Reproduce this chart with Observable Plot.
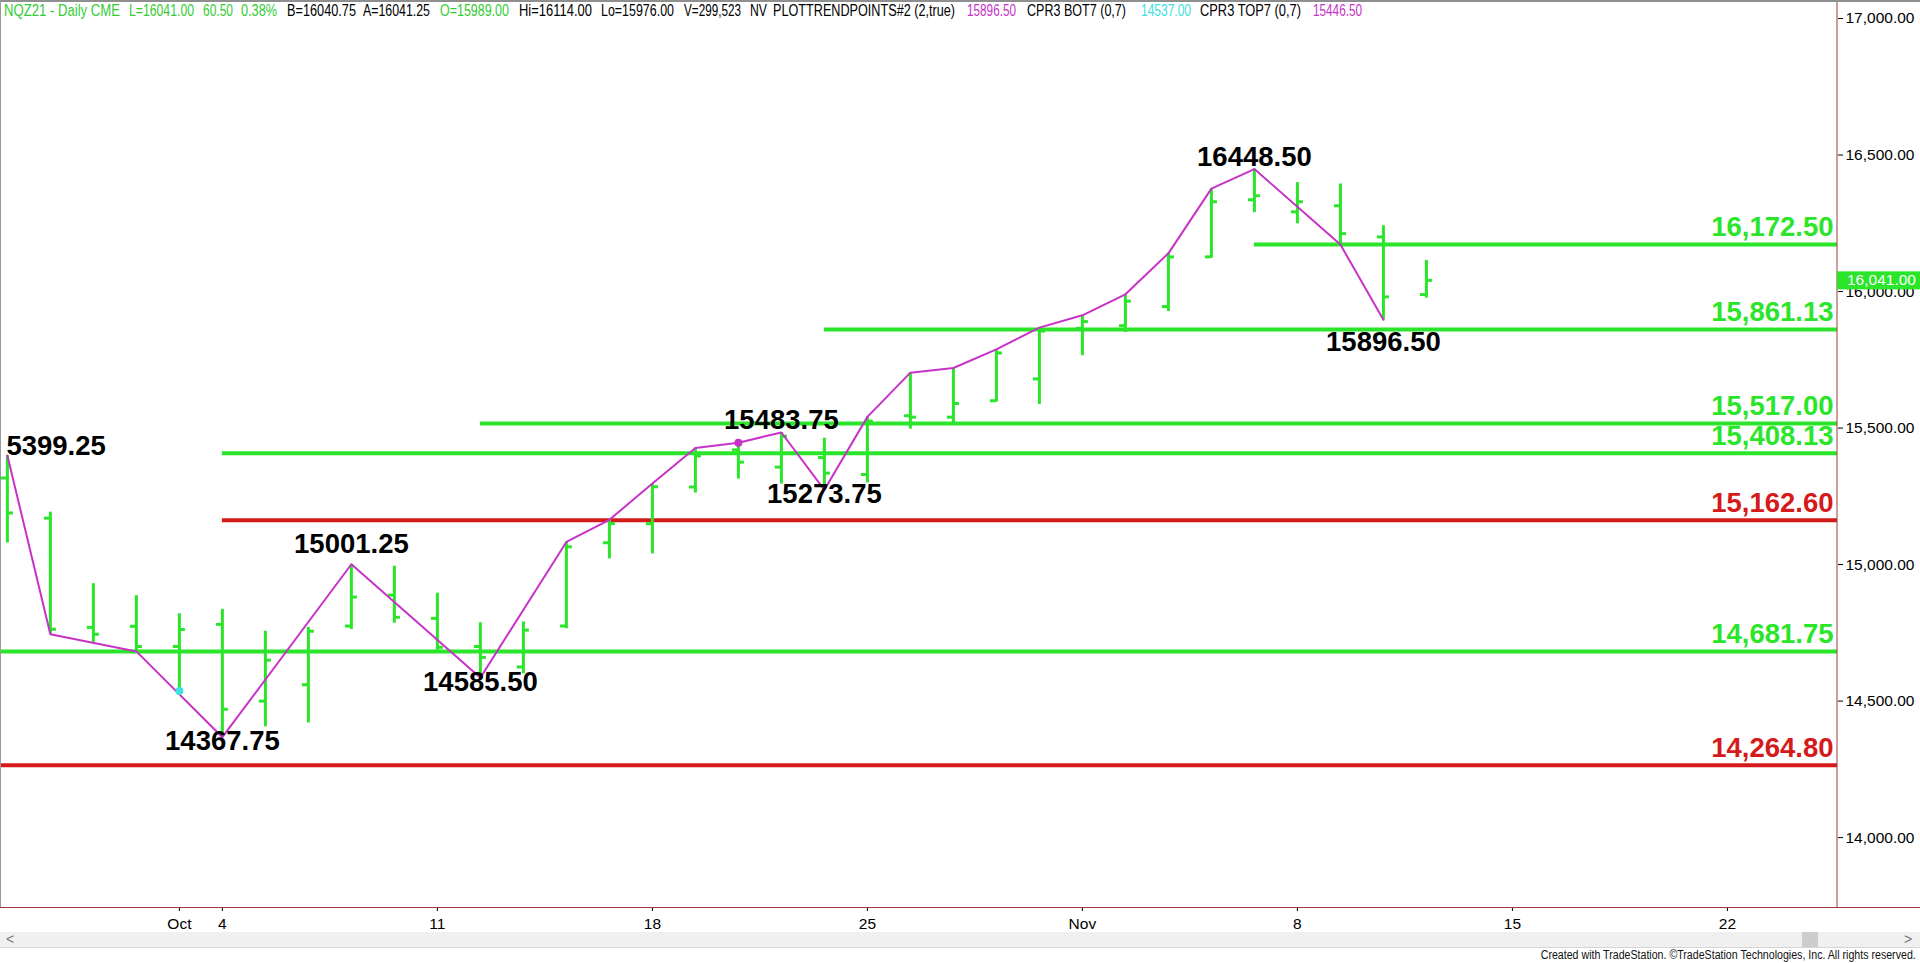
<!DOCTYPE html>
<html><head><meta charset="utf-8">
<script src="https://cdn.jsdelivr.net/npm/d3@7"></script>
<script src="https://cdn.jsdelivr.net/npm/@observablehq/plot@0.6"></script>
<style>
body{margin:0;background:#fff;width:1920px;height:963px;overflow:hidden;font-family:Arial,"Liberation Sans",sans-serif}
#chart svg{display:block}
#scroll{position:relative;width:1920px;height:16px;background:#f0f0f0;border-bottom:1px solid #d6d6d6;box-sizing:border-box}
#scroll .l{position:absolute;left:6px;top:-1px;font-size:14px;color:#777}
#scroll .r{position:absolute;left:1904px;top:-1px;font-size:14px;color:#777}
#scroll .thumb{position:absolute;left:1802px;top:0;width:16px;height:15px;background:#cdcdcd}
#cap{width:1920px;height:15px;position:relative}
#cap span{position:absolute;right:4px;top:0;font-size:12px;line-height:14px;white-space:nowrap;transform:scaleX(0.885);transform-origin:right center;color:#111}
</style></head><body>
<div id="chart"></div>
<div id="scroll"><span class="l">&lt;</span><div class="thumb"></div><span class="r">&gt;</span></div>
<div id="cap"><span>Created with TradeStation. ©TradeStation Technologies, Inc. All rights reserved.</span></div>
<script>
// ---------- data ----------
const barDates = ["2021-09-27","2021-09-28","2021-09-29","2021-09-30","2021-10-01",
  "2021-10-04","2021-10-05","2021-10-06","2021-10-07","2021-10-08",
  "2021-10-11","2021-10-12","2021-10-13","2021-10-14","2021-10-15",
  "2021-10-18","2021-10-19","2021-10-20","2021-10-21","2021-10-22",
  "2021-10-25","2021-10-26","2021-10-27","2021-10-28","2021-10-29",
  "2021-11-01","2021-11-02","2021-11-03","2021-11-04","2021-11-05",
  "2021-11-08","2021-11-09","2021-11-10","2021-11-11"];
const opens  = [15317,15170,14770,14774,14700, 14781,14500,14560,14775,14888, 14803,14700,14625,14775,15080, 15150,15284,15420,15357,15392, 15330,15545,15540,15600,15680, 15865,15875,15945,16127,16336, 16292,16314,16200,15989];
const highs  = [15399.25,15192,14930,14886,14820, 14836,14756,14770,15001.25,14994, 14895,14787,14790,15083,15164, 15297,15427,15450,15483.75,15463, 15541,15703,15720,15788,15868, 15913,15990,16140,16377,16448.5, 16399,16394,16241,16114];
const lows   = [15079,14745,14715,14680,14522, 14367.75,14406,14420,14762,14785, 14686,14585.5,14600,14765,15021, 15039,15262,15313,15295,15273.75, 15299,15496,15514,15595,15586, 15765,15850,15927,16122,16289, 16248,16170,15896.5,15976];
const closes = [15189,14763,14745,14700,14762, 14470,14650,14756,14881,14807, 14697,14660,14760,15065,15150, 15285,15398,15375,15470,15335, 15525,15540,15590,15775,15855, 15890,15965,16127,16329,16351, 16329,16212,15980.5,16041];

const trendDates  = ["2021-09-27","2021-09-28","2021-09-30","2021-10-04","2021-10-07","2021-10-12","2021-10-14","2021-10-15","2021-10-18","2021-10-19","2021-10-20","2021-10-21","2021-10-22","2021-10-25","2021-10-26","2021-10-27","2021-10-28","2021-10-29","2021-11-01","2021-11-02","2021-11-03","2021-11-04","2021-11-05","2021-11-09","2021-11-10"];
const trendValues = [15399.25,14745,14682,14367.75,15001.25,14585.5,15083,15164,15297,15427,15446.5,15483.75,15273.75,15541,15703,15720,15788,15868,15913,15990,16140,16377,16448.5,16172,15896.5];

const levelValues = [16172.50,15861.13,15517.00,15408.13,15162.60,14681.75,14264.80];
const levelStarts = ["2021-11-05","2021-10-22","2021-10-12","2021-10-04","2021-10-04",null,null];
const levelGroup  = ["up","up","up","up","down","up","down"];

const pivotDates  = ["2021-09-27","2021-10-04","2021-10-07","2021-10-12","2021-10-21","2021-10-22","2021-11-05","2021-11-10"];
const pivotValues = [15399.25,14367.75,15001.25,14585.50,15483.75,15273.75,16448.50,15896.50];
const pivotLabels = ["5399.25","14367.75","15001.25","14585.50","15483.75","15273.75","16448.50","15896.50"];
const pivotTypes  = ["high","low","high","low","high","low","high","low"];

const dotDates  = ["2021-10-01","2021-10-20"];
const dotValues = [14537.00,15446.50];
const dotNames  = ["CPR3 BOT7","CPR3 TOP7"];

const tickDates  = ["2021-10-01","2021-10-04","2021-10-11","2021-10-18","2021-10-25","2021-11-01","2021-11-08","2021-11-15","2021-11-22"];
const tickLabels = ["Oct","4","11","18","25","Nov","8","15","22"];
const yTicks = [14000,14500,15000,15500,16000,16500,17000];
const lastPrice = 16041.00;

// ---------- helpers ----------
const DAY = 864e5, origin = Date.UTC(2021,9,1);
function bidx(s){
  const t = Date.parse(s+"T00:00:00Z"); let n=0;
  if (t>=origin){ for(let d=origin+DAY; d<=t; d+=DAY){const w=new Date(d).getUTCDay(); if(w!==0&&w!==6) n++;} }
  else { for(let d=t; d<origin; d+=DAY){const w=new Date(d).getUTCDay(); if(w!==0&&w!==6) n--;} }
  return n;
}
const xDomain = [-4.16, 38.56];
const yDomain = [13744, 17066];
const GREEN="#2be52b", RED="#d41a1a", MAG="#c832c8", CYAN="#3ee0e0";
const tk = 6/43;

const bars = barDates.map((d,i)=>({i:bidx(d),o:opens[i],h:highs[i],l:lows[i],c:closes[i]}));
const trend = trendDates.map((d,i)=>({i:bidx(d),v:trendValues[i]}));
const levels = levelValues.map((v,i)=>({v, x1: levelStarts[i]==null ? xDomain[0] : bidx(levelStarts[i]), g: levelGroup[i]}));
const pivots = pivotDates.map((d,i)=>({i:bidx(d),v:pivotValues[i],t:pivotLabels[i],k:pivotTypes[i]}));
const dots = dotDates.map((d,i)=>({i:bidx(d),v:dotValues[i],n:dotNames[i]}));
const tickIdx = tickDates.map(bidx);
const tickMap = new Map(tickIdx.map((x,i)=>[x,tickLabels[i]]));
const fmt2 = d3.format(",.2f");

const first = pivots.slice(0,1);
const highsN = pivots.filter((d,j)=>j>0 && d.k==="high" && d.t!=="15001.25");
const highsR = pivots.filter(d=>d.t==="15001.25");
const lowsN  = pivots.filter(d=>d.k==="low" && d.t!=="15896.50");
const lowsR  = pivots.filter(d=>d.t==="15896.50");
const lab = {fontSize:27.5, fontWeight:"bold", fill:"#000", lineAnchor:"bottom"};

const chart = Plot.plot({
  width:1920, height:932,
  marginLeft:0, marginRight:83, marginTop:0, marginBottom:25,
  style:{background:"#fff", fontFamily:"Arial, 'Liberation Sans', sans-serif", fontSize:"15.5px", color:"#000"},
  x:{type:"linear", domain:xDomain, ticks:tickIdx, tickFormat:d=>tickMap.get(d), tickSize:4, tickPadding:6, label:null},
  y:{type:"linear", domain:yDomain, axis:"right", ticks:yTicks, tickFormat:fmt2, tickSize:5, tickPadding:3, label:null},
  marks:[
    Plot.ruleY(levels,{y:"v", x1:"x1", x2:xDomain[1], stroke:d=>d.g==="up"?GREEN:RED, strokeWidth:4}),
    Plot.ruleX(bars,{x:"i", y1:"l", y2:"h", stroke:GREEN, strokeWidth:3}),
    Plot.ruleY(bars,{y:"o", x1:d=>d.i-tk, x2:"i", stroke:GREEN, strokeWidth:3}),
    Plot.ruleY(bars,{y:"c", x1:"i", x2:d=>d.i+tk, stroke:GREEN, strokeWidth:3}),
    Plot.line(trend,{x:"i", y:"v", stroke:MAG, strokeWidth:2}),
    Plot.dot(dots,{x:"i", y:"v", r:4, fill:(d,j)=>j===0?CYAN:MAG, stroke:"none"}),
    Plot.text(levels,{y:"v", x:xDomain[1], text:d=>fmt2(d.v), textAnchor:"end", lineAnchor:"bottom", dx:-4, dy:-8, fontSize:27.5, fontWeight:"bold", fill:d=>d.g==="up"?GREEN:RED}),
    Plot.text(highsN,{x:"i", y:"v", text:"t", dy:-3, ...lab}),
    Plot.text(highsR,{x:"i", y:"v", text:"t", dy:-11, ...lab}),
    Plot.text(lowsN,{x:"i", y:"v", text:"t", dy:13, ...lab}),
    Plot.text(lowsR,{x:"i", y:"v", text:"t", dy:31, ...lab}),
    Plot.text(first,{x:"i", y:"v", text:"t", textAnchor:"start", dx:-1, dy:-1, ...lab})
  ]
});
document.getElementById("chart").appendChild(chart);

// ---------- chrome drawn with the chart's scales ----------
const svg = d3.select(chart);
const xs = chart.scale("x"), ys = chart.scale("y");
const axX = xs.apply(xDomain[1]), axY = ys.apply(yDomain[0]);
svg.append("line").attr("x1",axX).attr("x2",axX).attr("y1",0).attr("y2",axY).attr("stroke","#a13a3a").attr("stroke-width",1);
svg.append("line").attr("x1",0).attr("x2",1920).attr("y1",axY+0.5).attr("y2",axY+0.5).attr("stroke","#a13a3a").attr("stroke-width",1);
svg.append("rect").attr("x",0).attr("y",0).attr("width",1920).attr("height",2).attr("fill","#8f8f8f");
svg.append("line").attr("x1",0.5).attr("x2",0.5).attr("y1",0).attr("y2",axY).attr("stroke","#9a9a9a");
// last price marker
const py = ys.apply(lastPrice);
svg.append("rect").attr("x",axX).attr("y",py-8.5).attr("width",1920-axX).attr("height",18).attr("fill",GREEN);
svg.append("text").attr("x",axX+10).attr("y",py).attr("dy","0.34em").attr("text-anchor","start").attr("fill","#fff").attr("font-size","15.5px").text(fmt2(lastPrice));

// header (status line): narrow face emulated by a vertical stretch
const header = [
  ["NQZ21 - Daily CME",4,121,"#33cc33"],["L=16041.00",129,195,"#33cc33"],["60.50",203,234,"#33cc33"],["0.38%",241,278,"#33cc33"],
  ["B=16040.75",287,357,"#000"],["A=16041.25",363,431,"#000"],["O=15989.00",440,510,"#33cc33"],
  ["Hi=16114.00",519,593,"#000"],["Lo=15976.00",601,675,"#000"],["V=299,523",684,742,"#000"],["NV",750,768,"#000"],
  ["PLOTTRENDPOINTS#2 (2,true)",773,956,"#000"],["15896.50",967,1017,MAG],
  ["CPR3 BOT7 (0,7)",1027,1127,"#000"],["14537.00",1141,1192,CYAN],
  ["CPR3 TOP7 (0,7)",1200,1302,"#000"],["15446.50",1313,1363,MAG]
];
const hg = svg.append("g").attr("font-size","12.4px").attr("text-anchor","start").attr("font-family","Arial, 'Liberation Sans', sans-serif");
header.forEach(([t,a,b,c])=>{
  hg.append("text").attr("transform",`translate(${a},15.5) scale(1,1.3)`).attr("x",0).attr("y",0)
    .attr("fill",c).attr("text-anchor","start")
    .attr("textLength",b-a-1).attr("lengthAdjust","spacingAndGlyphs").text(t);
});
</script>
</body></html>
